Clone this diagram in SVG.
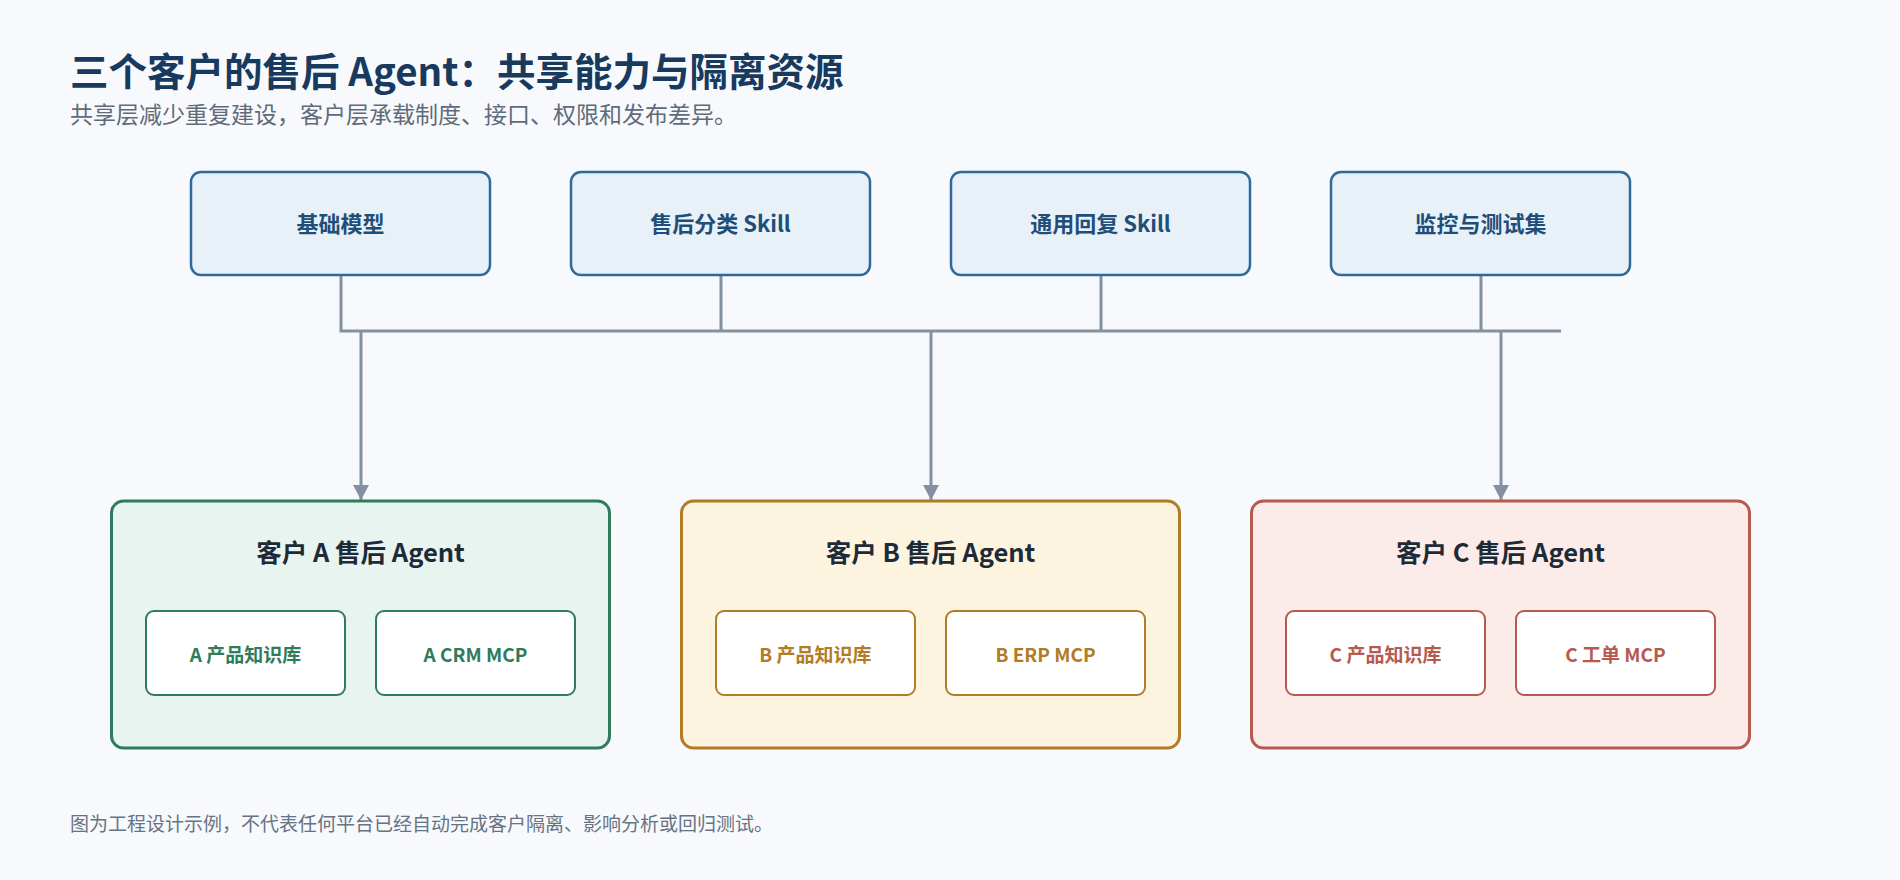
<svg xmlns="http://www.w3.org/2000/svg" width="1900" height="880" viewBox="0 0 1900 880">
<defs>
<style>
text{font-family:"Noto Sans CJK SC","Noto Sans",sans-serif}
.title{font-size:38.5px;font-weight:700;fill:#173a5e}
.sub{font-size:23px;fill:#5f6b7a}
.foot{font-size:19px;fill:#667383}
.shared rect{fill:#e9f1f8;stroke:#2e6b9c;stroke-width:2.5}
.shared text{font-size:22px;font-weight:700;fill:#1f4e79;text-anchor:middle}
.cust>rect{stroke-width:3}
.cust .ct{font-size:25.5px;font-weight:700;fill:#1d2a38;text-anchor:middle}
.inner rect{fill:#ffffff;stroke-width:2}
.inner text{font-size:19px;font-weight:700;text-anchor:middle}
.a>rect{fill:#e8f4ef;stroke:#2e7c5c}
.a .inner rect{stroke:#2e7c5c}.a .inner text{fill:#2e7c5c}
.b>rect{fill:#fdf4df;stroke:#b27b25}
.b .inner rect{stroke:#b27b25}.b .inner text{fill:#b27b25}
.c>rect{fill:#fbece9;stroke:#b65a50}
.c .inner rect{stroke:#b65a50}.c .inner text{fill:#b65a50}
.conn path{fill:none;stroke:#8391a2;stroke-width:3}
</style>
<marker id="arr" markerUnits="userSpaceOnUse" markerWidth="18" markerHeight="16" refX="15" refY="8" orient="auto">
<path d="M0,0 L15,8 L0,16 Z" fill="#8391a2"/>
</marker>
</defs>
<rect x="0" y="0" width="1900" height="880" fill="#f7f9fc"/>
<text class="title" x="70" y="86">三个客户的售后 Agent：共享能力与隔离资源</text>
<text class="sub" x="70" y="123">共享层减少重复建设，客户层承载制度、接口、权限和发布差异。</text>

<g id="connectors" class="conn">
<path d="M341 275 V331 H1561"/>
<path d="M721 275 V331"/>
<path d="M1101 275 V331"/>
<path d="M1481 275 V331"/>
<path d="M361 331 V500" marker-end="url(#arr)"/>
<path d="M931 331 V500" marker-end="url(#arr)"/>
<path d="M1501 331 V500" marker-end="url(#arr)"/>
</g>

<g id="shared-model" class="shared"><rect x="191" y="172" width="299" height="103" rx="10"/><text x="340.5" y="232">基础模型</text></g>
<g id="shared-classify" class="shared"><rect x="571" y="172" width="299" height="103" rx="10"/><text x="720.5" y="232">售后分类 Skill</text></g>
<g id="shared-reply" class="shared"><rect x="951" y="172" width="299" height="103" rx="10"/><text x="1100.5" y="232">通用回复 Skill</text></g>
<g id="shared-monitor" class="shared"><rect x="1331" y="172" width="299" height="103" rx="10"/><text x="1480.5" y="232">监控与测试集</text></g>

<g id="customer-a" class="cust a">
<rect x="111.5" y="501" width="498" height="247" rx="12"/>
<text class="ct" x="360.5" y="562">客户 A 售后 Agent</text>
<g id="a-kb" class="inner"><rect x="146" y="611" width="199" height="84" rx="8"/><text x="245.5" y="662">A 产品知识库</text></g>
<g id="a-crm" class="inner"><rect x="376" y="611" width="199" height="84" rx="8"/><text x="475.5" y="662">A CRM MCP</text></g>
</g>

<g id="customer-b" class="cust b">
<rect x="681.5" y="501" width="498" height="247" rx="12"/>
<text class="ct" x="930.5" y="562">客户 B 售后 Agent</text>
<g id="b-kb" class="inner"><rect x="716" y="611" width="199" height="84" rx="8"/><text x="815.5" y="662">B 产品知识库</text></g>
<g id="b-erp" class="inner"><rect x="946" y="611" width="199" height="84" rx="8"/><text x="1045.5" y="662">B ERP MCP</text></g>
</g>

<g id="customer-c" class="cust c">
<rect x="1251.5" y="501" width="498" height="247" rx="12"/>
<text class="ct" x="1500.5" y="562">客户 C 售后 Agent</text>
<g id="c-kb" class="inner"><rect x="1286" y="611" width="199" height="84" rx="8"/><text x="1385.5" y="662">C 产品知识库</text></g>
<g id="c-ticket" class="inner"><rect x="1516" y="611" width="199" height="84" rx="8"/><text x="1615.5" y="662">C 工单 MCP</text></g>
</g>

<text class="foot" x="70" y="831">图为工程设计示例，不代表任何平台已经自动完成客户隔离、影响分析或回归测试。</text>
</svg>
